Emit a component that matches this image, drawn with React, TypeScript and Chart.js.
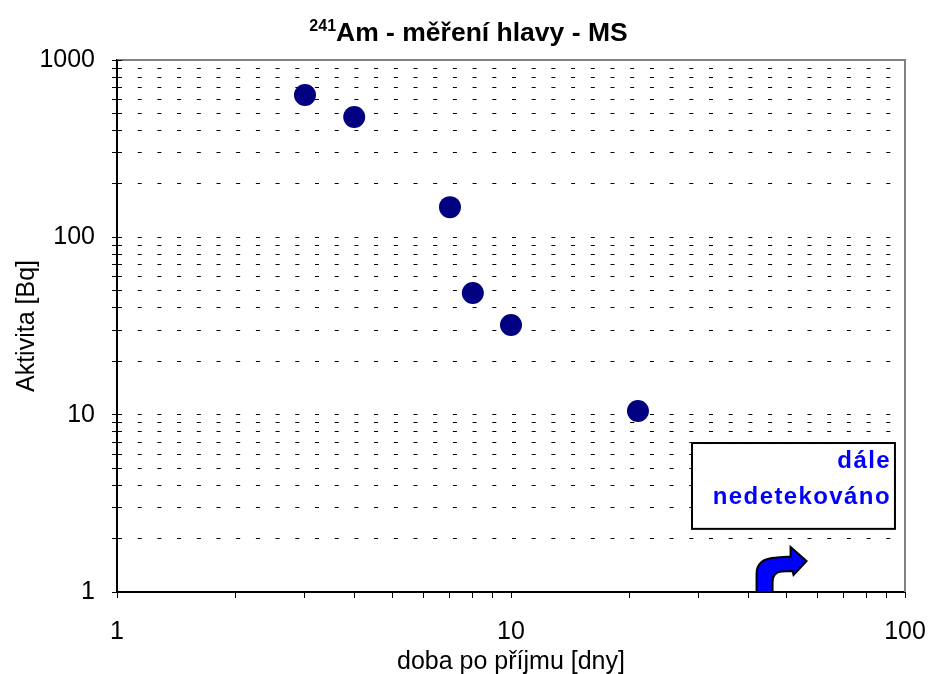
import React, { useEffect, useRef } from "react";
import { Chart, registerables } from "chart.js";

Chart.register(...registerables);

// ---- text ----
const TITLE_SUP = "241";
const TITLE_MAIN = "Am - měření hlavy - MS";
const X_TITLE = "doba po příjmu [dny]";
const Y_TITLE = "Aktivita [Bq]";
const NOTE_LINES = ["dále", "nedetekováno"];

// ---- data ----
const days = [3, 4, 7, 8, 10, 21];
const activity = [635, 477, 148, 48.5, 32, 10.5];

// ---- ticks ----
const xTickValues = [1, 2, 3, 4, 5, 6, 7, 8, 9, 10, 20, 30, 40, 50, 60, 70, 80, 90, 100];
const yTickValues = [
  1, 2, 3, 4, 5, 6, 7, 8, 9, 10, 20, 30, 40, 50, 60, 70, 80, 90, 100,
  200, 300, 400, 500, 600, 700, 800, 900, 1000,
];
const xTickLabels = ["1", "10", "100"];
const yTickLabels = ["1", "10", "100", "1000"];

// ---- annotation anchors (data coordinates) ----
const noteX = [28.8, 94.3];
const noteY = [2.27, 6.92];
const arrowAt = [42, 1];

const FONT = "'Liberation Sans', Arial, sans-serif";

const decorPlugin = {
  id: "decor",
  afterDraw(chart: any) {
    const ctx: CanvasRenderingContext2D = chart.ctx;
    const { left, right, top, bottom } = chart.chartArea;
    const xs = chart.scales.x;
    const ys = chart.scales.y;
    ctx.save();

    // gray frame top/right
    ctx.strokeStyle = "#808080";
    ctx.lineWidth = 2;
    ctx.beginPath();
    ctx.moveTo(left, top);
    ctx.lineTo(right, top);
    ctx.lineTo(right, bottom);
    ctx.stroke();

    // inner half of y ticks (cross ticks)
    ctx.strokeStyle = "#000";
    ctx.lineWidth = 1;
    ctx.beginPath();
    for (const v of yTickValues) {
      const y = Math.round(ys.getPixelForValue(v) - 0.5) + 0.5;
      ctx.moveTo(left, y);
      ctx.lineTo(left + 5, y);
    }
    ctx.stroke();

    // title with superscript
    ctx.fillStyle = "#000";
    ctx.textBaseline = "alphabetic";
    ctx.textAlign = "left";
    ctx.font = `bold 16px ${FONT}`;
    const wSup = ctx.measureText(TITLE_SUP).width;
    ctx.font = `bold 26.5px ${FONT}`;
    const wMain = ctx.measureText(TITLE_MAIN).width;
    const startX = chart.width / 2 + 4.5 - (wSup + wMain) / 2;
    ctx.font = `bold 16px ${FONT}`;
    ctx.fillText(TITLE_SUP, startX, 31);
    ctx.font = `bold 26.5px ${FONT}`;
    ctx.fillText(TITLE_MAIN, startX + wSup, 41);

    // note box
    const bx1 = xs.getPixelForValue(noteX[0]);
    const bx2 = xs.getPixelForValue(noteX[1]);
    const by1 = ys.getPixelForValue(noteY[1]);
    const by2 = ys.getPixelForValue(noteY[0]);
    ctx.fillStyle = "#fff";
    ctx.fillRect(bx1, by1, bx2 - bx1, by2 - by1);
    ctx.strokeStyle = "#000";
    ctx.lineWidth = 2;
    ctx.strokeRect(bx1, by1, bx2 - bx1, by2 - by1);
    ctx.fillStyle = "#0000FF";
    ctx.font = `bold 24px ${FONT}`;
    (ctx as any).letterSpacing = "1.4px";
    ctx.textAlign = "right";
    ctx.fillText(NOTE_LINES[0], bx2 - 4, by1 + 25);
    ctx.fillText(NOTE_LINES[1], bx2 - 4, by1 + 61);
    (ctx as any).letterSpacing = "0px";

    // curved arrow
    const ox = xs.getPixelForValue(arrowAt[0]);
    const oy = ys.getPixelForValue(arrowAt[1]);
    ctx.beginPath();
    ctx.moveTo(ox, oy);
    ctx.lineTo(ox, oy - 18);
    ctx.bezierCurveTo(ox, oy - 29, ox + 8, oy - 34, ox + 20, oy - 34.5);
    ctx.lineTo(ox + 34, oy - 35.5);
    ctx.lineTo(ox + 34, oy - 45);
    ctx.lineTo(ox + 50, oy - 31);
    ctx.lineTo(ox + 37, oy - 17);
    ctx.lineTo(ox + 36, oy - 21);
    ctx.lineTo(ox + 25, oy - 20.5);
    ctx.bezierCurveTo(ox + 19, oy - 20, ox + 16, oy - 16, ox + 16, oy - 10);
    ctx.lineTo(ox + 16, oy);
    ctx.closePath();
    ctx.fillStyle = "#0000FF";
    ctx.fill();
    ctx.strokeStyle = "#000";
    ctx.lineWidth = 2;
    ctx.stroke();

    ctx.restore();
  },
};

export default function App() {
  const ref = useRef<HTMLCanvasElement>(null);

  useEffect(() => {
    const canvas = ref.current!;
    const chart = new Chart(canvas, {
      type: "scatter",
      data: {
        datasets: [
          {
            data: days.map((d, i) => ({ x: d, y: activity[i] })),
            backgroundColor: "#000080",
            borderColor: "#000080",
            borderWidth: 0,
            pointRadius: 11,
            pointHoverRadius: 11,
            showLine: false,
          },
        ],
      },
      options: {
        responsive: false,
        animation: false,
        devicePixelRatio: 1,
        layout: { padding: { top: 60, right: 23, left: 0, bottom: 0 } },
        plugins: {
          legend: { display: false },
          tooltip: { enabled: false },
          title: { display: false },
        },
        scales: {
          x: {
            type: "logarithmic",
            min: 1,
            max: 100,
            afterBuildTicks: (scale: any) => {
              scale.ticks = xTickValues.map((v) => ({ value: v }));
            },
            afterFit: (scale: any) => {
              scale.height = 82;
              scale.paddingLeft = 0;
              scale.paddingRight = 0;
            },
            ticks: {
              autoSkip: false,
              maxRotation: 0,
              minRotation: 0,
              padding: 19,
              color: "#000",
              font: { family: FONT, size: 25 },
              callback: (value: any) =>
                xTickLabels.includes(String(value)) ? String(value) : "",
            },
            grid: {
              drawOnChartArea: false,
              drawTicks: true,
              tickLength: 6,
              tickColor: "#000",
              tickWidth: 1,
              color: "#000",
            },
            border: { display: true, color: "#000", width: 2 },
            title: {
              display: true,
              text: X_TITLE,
              color: "#000",
              font: { family: FONT, size: 25 },
              padding: { top: 0, bottom: -3 },
            },
          },
          y: {
            type: "logarithmic",
            min: 1,
            max: 1000,
            afterBuildTicks: (scale: any) => {
              scale.ticks = yTickValues.map((v) => ({ value: v }));
            },
            afterFit: (scale: any) => {
              scale.width = 117;
              scale.paddingTop = 0;
              scale.paddingBottom = 0;
            },
            ticks: {
              autoSkip: false,
              padding: 17,
              color: "#000",
              font: { family: FONT, size: 25 },
              callback: (value: any) =>
                yTickLabels.includes(String(value)) ? String(value) : "",
            },
            grid: {
              drawOnChartArea: true,
              drawTicks: true,
              tickLength: 5,
              tickColor: "#000",
              tickWidth: 1,
              lineWidth: 1,
              color: (c: any) =>
                c.tick &&
                (c.tick.value === yTickValues[0] ||
                  c.tick.value === yTickValues[yTickValues.length - 1])
                  ? "rgba(0,0,0,0)"
                  : "#000",
            },
            border: { display: true, color: "#000", width: 2, dash: [4, 15.7] },
            title: {
              display: true,
              text: Y_TITLE,
              color: "#000",
              font: { family: FONT, size: 25 },
              padding: { top: 12, bottom: 0 },
            },
          },
        },
      },
      plugins: [decorPlugin],
    } as any);
    return () => chart.destroy();
  }, []);

  return (
    <div style={{ position: "absolute", left: 0, top: 0, width: 928, height: 674 }}>
      <canvas ref={ref} width={928} height={674} style={{ display: "block" }} />
    </div>
  );
}
